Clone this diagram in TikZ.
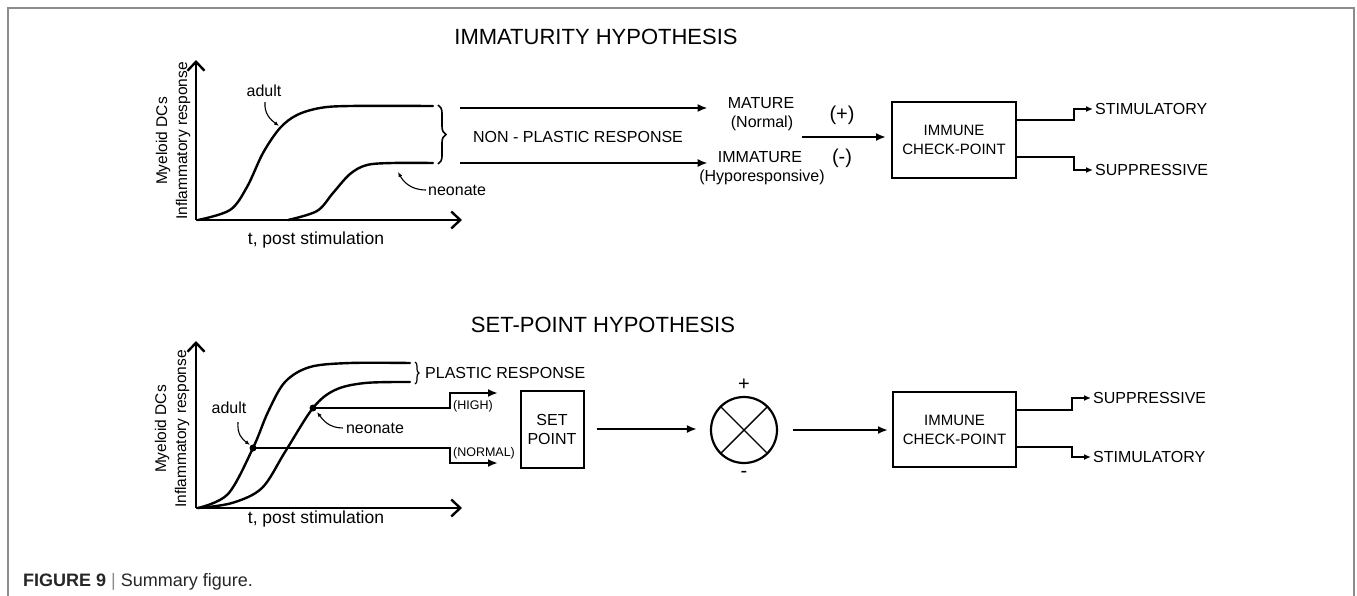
\documentclass[tikz,border=0pt]{standalone}
\usepackage{fontspec}
\setmainfont{Liberation Sans}
\usetikzlibrary{arrows.meta,calc,decorations.pathreplacing}

\tikzset{
    axis/.style={line width=2.4pt, -{Straight Barb[length=9pt,width=17pt]}},
    resp/.style={line width=2.4pt, line cap=round},
    flow/.style={line width=2pt, -{Latex[length=10pt,width=8pt]}},
    outflow/.style={line width=2pt, -{Latex[length=7pt,width=6pt]}},
    tag/.style={line width=1.1pt, -{Latex[length=5pt,width=4pt]}},
    lbl/.style={inner sep=0pt, font=\fontsize{16}{20}\selectfont},
    smalllbl/.style={inner sep=0pt, font=\fontsize{12.5}{15}\selectfont},
    headline/.style={inner sep=0pt, font=\fontsize{22}{26}\selectfont},
    signlbl/.style={inner sep=0pt, font=\fontsize{20}{24}\selectfont},
    ylbl/.style={inner sep=0pt, rotate=90, align=center, font=\fontsize{15.5}{20}\selectfont},
    xlbl/.style={inner sep=0pt, anchor=north, font=\fontsize{17.5}{21}\selectfont},
    block/.style={draw, line width=2pt, inner sep=0pt, align=center, font=\fontsize{15}{19}\selectfont},
    rbrace/.style={decorate, line width=1.6pt, decoration={brace, amplitude=#1}},
}

\begin{document}
\begin{tikzpicture}[x=1pt, y=-1pt]
    \useasboundingbox (0,0) rectangle (1357,596);
    % Frame.
    \draw[black!45, line width=1.4pt] (8,596) -- (8,8) -- (1354,8) -- (1354,596);

    % Immaturity hypothesis.
    \node[headline] (title1) at (596,37) {IMMATURITY HYPOTHESIS};
    \coordinate (o1) at (196,220);
    \draw[axis] (o1) -- (196,60);
    \draw[axis] (o1) -- (462,220);
    \node[ylbl] (ylab1) at (173,141) {Myeloid DCs\\Inflammatory response};
    \node[xlbl] (xlab1) at (316,232) {t, post stimulation};

    \draw[resp] plot[smooth, tension=0.55] coordinates {(198,220) (230,210) (247,187) (263,153) (280,128) (297,115) (320,108) (350,106) (433,106)};
    \draw[resp] plot[smooth, tension=0.55] coordinates {(288,220) (317,211) (333,193) (350,174) (367,165) (393,163) (433,163)};
    \draw[rbrace=8pt] (438,105) -- (438,164);

    \node[lbl] (adult1) at (264,91) {adult};
    \coordinate (apt1) at (279,126);
    \draw[tag] ($(adult1.south)+(1,5)$) .. controls +(-1,12) and +(-8,-6) .. (apt1);
    \node[lbl, anchor=west] (neo1) at (428,190) {neonate};
    \coordinate (npt1) at (398,172);
    \draw[tag] ($(neo1.west)+(-2,0)$) .. controls +(-16,0) and +(5,9) .. (npt1);

    \node[lbl] (nonplastic) at (578,137) {NON - PLASTIC RESPONSE};
    \node[lbl] (mature) at (761,103) {MATURE};
    \node[lbl] (normal) at (762,123) {(Normal)};
    \node[lbl] (immature) at (760,157) {IMMATURE};
    \node[lbl] (hypo) at (762,177) {(Hyporesponsive)};
    \coordinate (nb1) at (460,108);
    \coordinate (nb2) at (460,163);
    \draw[flow, shorten >=20pt] (nb1) -- (nb1 -| mature.west);
    \draw[flow, shorten >=10pt] (nb2) -- (nb2 -| immature.west);

    \node[signlbl] (pos1) at (842,115) {(+)};
    \node[signlbl] (neg1) at (842,158) {(-)};
    \node[block, minimum width=124pt, minimum height=76pt] (check1) at (954,140) {IMMUNE\\CHECK-POINT};
    \coordinate (j1) at (802,137);
    \draw[flow, shorten >=5pt] (j1) -- (j1 -| check1.west);

    \node[lbl, anchor=west] (stim1) at (1095,109) {STIMULATORY};
    \node[lbl, anchor=west] (supp1) at (1095,170) {SUPPRESSIVE};
    \draw[outflow, shorten >=2pt] ($(check1.east)+(0,-20)$) -- ++(57,0) |- (stim1.west);
    \draw[outflow, shorten >=2pt] ($(check1.east)+(0,17)$) -- ++(57,0) |- (supp1.west);

    % Set-point hypothesis.
    \node[headline] (title2) at (603,325) {SET-POINT HYPOTHESIS};
    \coordinate (o2) at (196,508);
    \draw[axis] (o2) -- (196,341);
    \draw[axis] (o2) -- (462,508);
    \node[ylbl] (ylab2) at (172,429) {Myeloid DCs\\Inflammatory response};
    \node[xlbl] (xlab2) at (316,511) {t, post stimulation};

    \draw[resp] plot[smooth, tension=0.55] coordinates {(198,508) (228,494) (253,448) (268,412) (285,382) (310,367) (350,363) (410,363)};
    \draw[resp] plot[smooth, tension=0.55] coordinates {(198,508) (232,503) (262,488) (285,452) (313,408) (335,390) (365,383) (410,382)};
    \draw[rbrace=4pt, line width=1.2pt] (415,362) -- (415,384);
    \node[lbl, anchor=west] (plastic) at (425,373) {PLASTIC RESPONSE};

    \coordinate (adot) at (253,448);
    \coordinate (ndot) at (313,408);
    \fill (adot) circle (3.5pt);
    \fill (ndot) circle (3.5pt);

    \node[lbl] (adult2) at (229,408) {adult};
    \coordinate (apt2) at (250,445);
    \draw[tag] ($(adult2.south)+(9,8)$) .. controls +(-1,12) and +(-8,-6) .. (apt2);
    \node[lbl] (neo2) at (375,428) {neonate};
    \coordinate (npt2) at (317,412);
    \draw[tag] ($(neo2.west)+(-3,0)$) .. controls +(-14,0) and +(6,8) .. (npt2);

    \node[smalllbl] (high) at (473,406) {(HIGH)};
    \node[smalllbl] (normlbl) at (484,453) {(NORMAL)};
    \coordinate (hiend) at (498,393);
    \coordinate (noend) at (498,463);
    \draw[flow] (ndot) -| (450,393) -- (hiend);
    \draw[flow] (adot) -| (450,463) -- (noend);

    \node[block, minimum width=63pt, minimum height=77pt, font=\fontsize{16}{19}\selectfont] (setpt) at (552,429) {SET\\POINT};
    \node[draw, circle, line width=2.2pt, minimum size=66pt, inner sep=0pt] (comp) at (744,430) {};
    \draw[line width=1.4pt] (comp.north west) -- (comp.south east) (comp.north east) -- (comp.south west);
    \node[signlbl] (pos2) at (744,385) {+};
    \node[signlbl] (neg2) at (744,474) {-};
    \draw[flow, shorten <=12pt, shorten >=13pt] (setpt.east) -- (setpt.east -| comp.west);

    \node[block, minimum width=123pt, minimum height=75pt] (check2) at (954.5,429.5) {IMMUNE\\CHECK-POINT};
    \draw[flow, shorten <=15pt, shorten >=4pt] (comp.east) -- (comp.east -| check2.west);

    \node[lbl, anchor=west] (supp2) at (1093,398) {SUPPRESSIVE};
    \node[lbl, anchor=west] (stim2) at (1093,457) {STIMULATORY};
    \draw[outflow, shorten >=2pt] ($(check2.east)+(0,-19.5)$) -- ++(55,0) |- (supp2.west);
    \draw[outflow, shorten >=2pt] ($(check2.east)+(0,17.5)$) -- ++(55,0) |- (stim2.west);

    % Caption.
    \node[anchor=west, inner sep=0pt, font=\fontsize{18}{22}\selectfont, text=black!85] (caption) at (23,582) {\textbf{FIGURE 9} \textcolor{black!45}{|} Summary figure.};
\end{tikzpicture}
\end{document}
